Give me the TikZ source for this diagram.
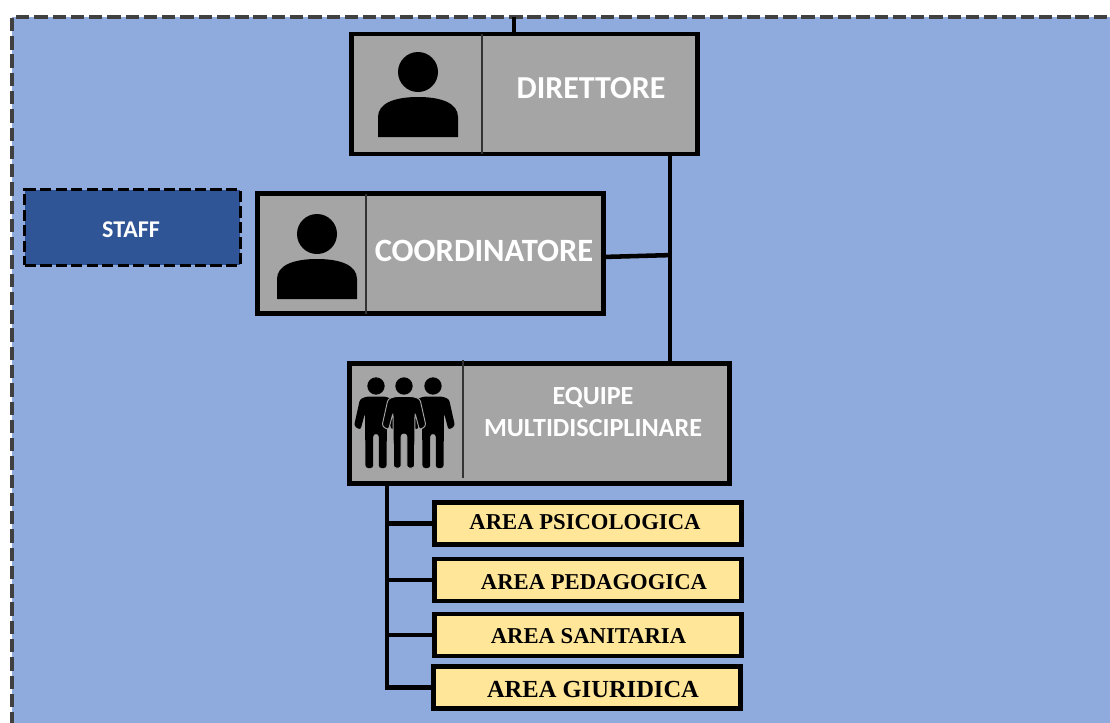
\documentclass[tikz,border=0pt]{standalone}
\usepackage{fontspec}
\setmainfont{Carlito}
\newfontfamily\serifb{Liberation Serif}[Scale=1]
\definecolor{bluebg}{HTML}{8FAADC}
\definecolor{boxgray}{HTML}{A5A5A5}
\definecolor{staffblue}{HTML}{2F5597}
\definecolor{areayellow}{HTML}{FFE699}
\definecolor{framegray}{HTML}{404040}
\tikzset{
  x=0.75pt,y=-0.75pt,
  graybox/.style={draw=black,fill=boxgray,line width=3.6pt,inner sep=0pt,outer sep=0pt,rectangle},
  areabox/.style={draw=black,fill=areayellow,line width=3.4pt,inner sep=0pt,outer sep=0pt,rectangle,minimum width=230pt,minimum height=31.5pt},
  areatext/.style={font=\serifb\bfseries\fontsize{17}{18}\selectfont,text=black,inner sep=0pt},
  whitetext/.style={text=white,inner sep=0pt,align=center},
  divider/.style={draw=black!80,line width=1.1pt},
  link/.style={draw=black,line width=3.4pt},
  person/.pic={
    \fill[black] (0,0) ellipse [x radius=15pt,y radius=15pt];
    \fill[black] (-40,65) -- (-40,45) .. controls (-40,31) and (-23,25) .. (0,25) .. controls (23,25) and (40,31) .. (40,45) -- (40,65) -- cycle;
  },
  worker/.pic={
    \fill[black] (0,0) circle [radius=6.5pt];
    \path[fill=black,pic actions,rounded corners=2pt] (-9,10.5) -- (9,10.5) -- (16,13) -- (22,40) -- (15.5,44) -- (11,27) -- (10.5,82) -- (2.8,82) -- (2.8,48) -- (-2.8,48) -- (-2.8,82) -- (-10.5,82) -- (-11,27) -- (-15.5,44) -- (-22,40) -- (-16,13) -- cycle;
  },
}
\begin{document}
\begin{tikzpicture}
\useasboundingbox (0,0) rectangle (1110,722);
\fill[white] (0,0) rectangle (1110,722);
\node[rectangle,draw=framegray,fill=bluebg,dash pattern=on 10pt off 3.7pt,line width=3.7pt,inner sep=0pt,outer sep=0pt,anchor=north west,minimum width=830pt,minimum height=545pt] (frame) at (12,17) {};

\coordinate (topx) at (514,0);
\coordinate (mainx) at (670,0);
\coordinate (trunkx) at (387,0);

\node[graybox,minimum width=260pt,minimum height=90pt] (dir) at (524.5,94) {};
\node[graybox,minimum width=259.5pt,minimum height=90pt] (coord) at (430.5,253.5) {};
\node[graybox,minimum width=285.5pt,minimum height=90.5pt] (equipe) at (539.5,423.5) {};
\node[rectangle,draw=black,fill=staffblue,dash pattern=on 8.4pt off 3.2pt,line width=2.4pt,inner sep=0pt,outer sep=0pt,minimum width=161.5pt,minimum height=56.5pt] (staff) at (132.5,227.5) {};

\draw[divider] (482,34) -- (482,154);
\draw[divider] (366,194) -- (366,314);
\draw[divider] (463,360) -- (463,478);

\pic at (418,72) {person};
\pic at (317,234) {person};
\pic at (376,386) {worker};
\pic at (433,386) {worker};
\pic[draw=boxgray,line width=0.7pt] at (404,386) {worker};

\node[whitetext,font=\bfseries\fontsize{24}{28}\selectfont] (dirt) at (591,88) {DIRETTORE};
\node[whitetext,font=\bfseries\fontsize{24.4}{28}\selectfont] (coordt) at (484,251) {COORDINATORE};
\node[whitetext,font=\bfseries\fontsize{18}{20}\selectfont] (stafft) at (131,230) {STAFF};
\node[whitetext,font=\bfseries\fontsize{19.6}{24.7}\selectfont] (equipet) at (593,412) {EQUIPE\\MULTIDISCIPLINARE};

\node[areabox] (a1) at (588,523.5) {};
\node[areabox] (a2) at (588,580) {};
\node[areabox] (a3) at (588,635) {};
\node[areabox] (a4) at (587,687.5) {};
\node[areatext] (a1t) at (585,522) {AREA PSICOLOGICA};
\node[areatext] (a2t) at (594,582) {AREA PEDAGOGICA};
\node[areatext] (a3t) at (588.5,636) {AREA SANITARIA};
\node[areatext,font=\serifb\bfseries\fontsize{18.4}{20}\selectfont] (a4t) at (593,689) {AREA GIURIDICA};

\draw[link] (frame.north -| topx) -- (dir.north -| topx);
\draw[link] (dir.south -| mainx) -- (equipe.north -| mainx);
\draw[link] ([yshift=-2.6pt]coord.east) -- ([yshift=-1.2pt]coord.east -| mainx);
\draw[link] (equipe.south -| trunkx) -- (a4.west -| trunkx) -- (a4.west);
\draw[link] (a1.west -| trunkx) -- (a1.west);
\draw[link] (a2.west -| trunkx) -- (a2.west);
\draw[link] (a3.west -| trunkx) -- (a3.west);
\end{tikzpicture}
\end{document}
